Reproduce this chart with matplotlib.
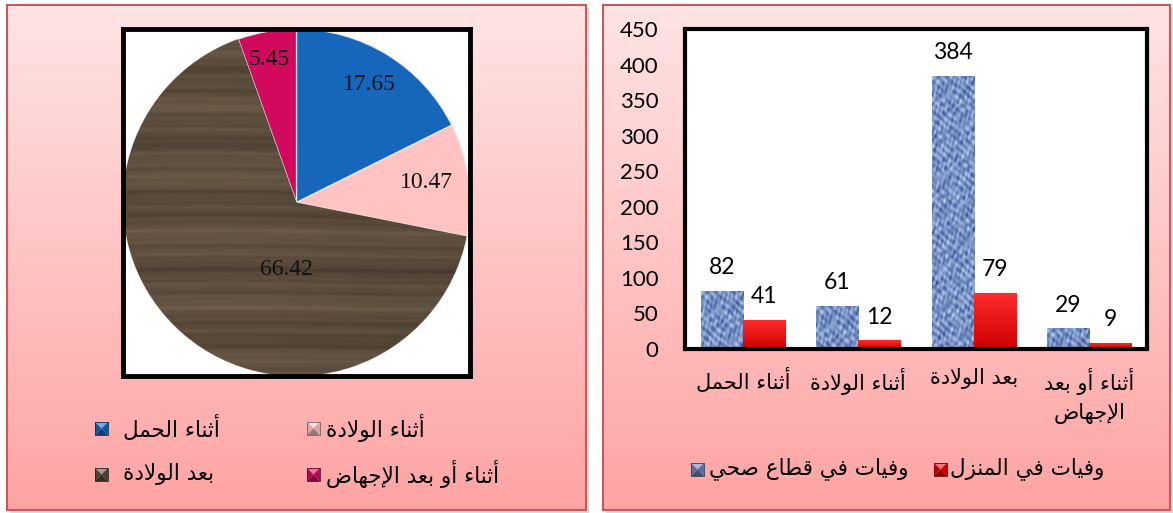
import numpy as np
import matplotlib
matplotlib.use("Agg")
import matplotlib.pyplot as plt
from matplotlib.patches import Rectangle, Polygon

# ---------------- data ----------------
pie_labels = ["أثناء الحمل", "أثناء الولادة", "بعد الولادة", "أثناء أو بعد الإجهاض"]
pie_values = [17.65, 10.47, 66.42, 5.45]

bar_categories = ["أثناء الحمل", "أثناء الولادة", "بعد الولادة", "أثناء أو بعد\nالإجهاض"]
health_sector = [82, 61, 384, 29]
at_home = [41, 12, 79, 9]
series_names = ["وفيات في قطاع صحي", "وفيات في المنزل"]
y_ticks = [0, 50, 100, 150, 200, 250, 300, 350, 400, 450]

# ---------------- simple Arabic shaping (presentation forms + RTL) ----------------
_codes = list(range(0x621, 0x63B)) + list(range(0x641, 0x64B))
_counts = [1, 2, 2, 2, 2, 4, 2, 4, 2, 4, 4, 4, 4, 4, 2, 2, 2, 2, 4, 4, 4, 4, 4, 4, 4, 4,
           4, 4, 4, 4, 4, 4, 4, 2, 2, 4]
FORMS = {}
_b = 0xFE80
for _c, _n in zip(_codes, _counts):
    FORMS[chr(_c)] = (_b, _n)
    _b += _n
LAM_ALEF = {'\u0622': 0xFEF5, '\u0623': 0xFEF7, '\u0625': 0xFEF9, '\u0627': 0xFEFB}


def _shape_line(s):
    toks = []
    i = 0
    while i < len(s):
        ch = s[i]
        if ch == '\u0644' and i + 1 < len(s) and s[i + 1] in LAM_ALEF:
            toks.append(('LA', s[i + 1]))
            i += 2
        else:
            toks.append(('C', ch))
            i += 1

    def dual(t):
        return t[0] == 'C' and t[1] in FORMS and FORMS[t[1]][1] == 4

    def joinable(t):
        return t[0] == 'LA' or (t[1] in FORMS and FORMS[t[1]][1] >= 2)

    res = []
    for k, t in enumerate(toks):
        prev = toks[k - 1] if k > 0 else None
        nxt = toks[k + 1] if k + 1 < len(toks) else None
        jp = prev is not None and dual(prev) and joinable(t)
        jn = nxt is not None and dual(t) and joinable(nxt)
        if t[0] == 'LA':
            res.append(chr(LAM_ALEF[t[1]] + (1 if jp else 0)))
        elif t[1] in FORMS:
            b, n = FORMS[t[1]]
            if n == 1:
                idx = 0
            elif n == 2:
                idx = 1 if jp else 0
            else:
                idx = 3 if (jp and jn) else 1 if jp else 2 if jn else 0
            res.append(chr(b + idx))
        else:
            res.append(t[1])
    return ''.join(reversed(res))


def ar(text):
    return '\n'.join(_shape_line(l) for l in text.split('\n'))


AR_FONT = ['DejaVu Sans']
NUM_FONT = ['Lato', 'DejaVu Sans']
SERIF = ['Liberation Serif', 'DejaVu Serif']

W, H = 1173, 513
fig = plt.figure(figsize=(W / 100, H / 100), dpi=100)
fig.patch.set_facecolor('white')

# ---------------- background panels (pixel coords) ----------------
bg = fig.add_axes([0, 0, 1, 1])
bg.set_xlim(0, W)
bg.set_ylim(H, 0)
bg.axis('off')

grad = np.linspace(0, 1, 256)[:, None]
top_c = np.array([254, 228, 228]) / 255
bot_c = np.array([255, 164, 164]) / 255
grad_img = top_c[None, None, :] * (1 - grad[..., None]) + bot_c[None, None, :] * grad[..., None]
grad_img = np.repeat(grad_img, 2, axis=1)

for (x0, y0, x1, y1) in [(7, 5, 586, 510), (603, 5, 1170, 510)]:
    bg.add_patch(Rectangle((x0 + 3, y0 + 3), x1 - x0, y1 - y0, facecolor='#d8d8d8',
                           edgecolor='none', zorder=0))
    bg.imshow(grad_img, extent=(x0, x1, y1, y0), aspect='auto', zorder=1, interpolation='bilinear')
    bg.add_patch(Rectangle((x0, y0), x1 - x0, y1 - y0, facecolor='none',
                           edgecolor='#c75a5a', linewidth=1.5, zorder=2))
bg.set_xlim(0, W)
bg.set_ylim(H, 0)


def px_axes(x0, y0, x1, y1):
    return fig.add_axes([x0 / W, 1 - y1 / H, (x1 - x0) / W, (y1 - y0) / H])


def bevel_marker(ax, x, y, s, color):
    c = np.array(matplotlib.colors.to_rgb(color))
    light = np.clip(c + (1 - c) * 0.45, 0, 1)
    dark = c * 0.6
    mid = c * 0.85
    cx, cy = x + s / 2, y + s / 2
    ax.add_patch(Polygon([(x, y), (x + s, y), (cx, cy)], closed=True, facecolor=light, edgecolor='none', zorder=5))
    ax.add_patch(Polygon([(x, y + s), (x + s, y + s), (cx, cy)], closed=True, facecolor=dark, edgecolor='none', zorder=5))
    ax.add_patch(Polygon([(x, y), (x, y + s), (cx, cy)], closed=True, facecolor=mid, edgecolor='none', zorder=5))
    ax.add_patch(Polygon([(x + s, y), (x + s, y + s), (cx, cy)], closed=True, facecolor=mid, edgecolor='none', zorder=5))
    ax.add_patch(Rectangle((x, y), s, s, facecolor='none', edgecolor=dark * 0.8, linewidth=0.6, zorder=6))


# ---------------- pie chart ----------------
pie_colors = ['#1666bc', '#ffc3c3', '#5b4a3d', '#d10a5e']
pax = px_axes(123, 29, 470, 376)
wedges, _ = pax.pie(pie_values, colors=pie_colors, startangle=90, counterclock=False,
                    radius=1.0, frame=True,
                    wedgeprops=dict(edgecolor='#efe6e6', linewidth=0.9))
pax.set_frame_on(True)
pax.set_facecolor('white')
pax.set_aspect('auto')
pax.set_xticks([])
pax.set_yticks([])
for sp in pax.spines.values():
    sp.set_visible(True)
    sp.set_linewidth(3.5)
    sp.set_color('black')

# wood texture for the large slice (soft, nearly horizontal grain)
yy, xx = np.mgrid[0:400, 0:400] / 400.0
u = yy + 0.006 * np.sin(2 * np.pi * xx * 0.7 + 0.5) + 0.03 * xx * (yy - 0.5)
streak = (0.45 + 0.13 * np.sin(2 * np.pi * u * 5.3 + 0.2)
          + 0.10 * np.sin(2 * np.pi * u * 13.7 + 1.3)
          + 0.08 * np.sin(2 * np.pi * u * 31.1 + 0.4)
          + 0.05 * np.sin(2 * np.pi * u * 57.9 + 2.2)
          + 0.06 * np.sin(2 * np.pi * xx * 0.6 + 0.7))
streak = np.clip(streak, 0, 1)
dark_w = np.array([0.27, 0.22, 0.17])
light_w = np.array([0.46, 0.39, 0.31])
wood = dark_w[None, None, :] + (light_w - dark_w)[None, None, :] * streak[..., None]
im = pax.imshow(wood, extent=(-1, 1, -1, 1), zorder=2, aspect='auto', interpolation='bilinear')
im.set_clip_path(wedges[2])
pax.set_xlim(-1.0, 1.0)
pax.set_ylim(-1.0, 1.0)

# slice value labels
label_r = [0.80, 0.76, 0.39, 0.84]
label_dtheta = [0, 1, 32, 1]
for w, v, r, dt in zip(wedges, pie_values, label_r, label_dtheta):
    th = np.deg2rad((w.theta1 + w.theta2) / 2 + dt)
    pax.text(r * np.cos(th), r * np.sin(th), f"{v:.2f}", ha='center', va='center',
             fontsize=17, family=SERIF, color='#111111', zorder=4)

# pie legend (pixel coords in bg axes)
leg_pos = [(95, 422), (307, 422), (95, 468), (307, 468)]
leg_txt = [123, 326, 123, 326]
for (lx, ly), tx0, lab, col in zip(leg_pos, leg_txt, pie_labels, pie_colors):
    bevel_marker(bg, lx, ly, 13, col)
    bg.text(tx0, ly + 6, ar(lab), ha='left', va='center', fontsize=15.5,
            family=AR_FONT, color='black', zorder=6)

# ---------------- bar chart ----------------
bax = px_axes(685, 29, 1147, 349)
bax.set_facecolor('white')
x = np.arange(len(bar_categories))
bw = 0.365
b1 = bax.bar(x - bw / 2, health_sector, bw, color='#6384c0', edgecolor='#4f6ea8', linewidth=0.6, zorder=2)
b2 = bax.bar(x + bw / 2, at_home, bw, color='#e60000', edgecolor='#9c0000', linewidth=0.8, zorder=2)

# mottled denim-like texture on blue bars (low-frequency blobs)
ty, tx = np.mgrid[0:320, 0:42].astype(float)
tex = (0.50
       + 0.22 * np.sin(tx * 0.55 + 1.8 * np.sin(ty * 0.21)) * np.sin(ty * 0.47 + 1.6 * np.sin(tx * 0.29))
       + 0.16 * np.sin(tx * 1.05 + ty * 0.36 + 1.0) * np.cos(ty * 0.19 - tx * 0.41)
       + 0.12 * np.sin(ty * 0.83 - tx * 0.71 + 0.3)
       + 0.08 * np.cos(tx * 1.6 + 0.5 * ty))
tex = np.clip(tex, 0, 1)
dark_b = np.array([0.17, 0.30, 0.58])
light_b = np.array([0.78, 0.85, 0.96])
tex_img = dark_b[None, None, :] + (light_b - dark_b)[None, None, :] * tex[..., None]

# vertical gradient for red bars
rg = np.linspace(0, 1, 64)[:, None]
red_top = np.array([1.0, 0.18, 0.18])
red_bot = np.array([0.82, 0.0, 0.0])
red_img = red_top[None, None, :] * (1 - rg[..., None]) + red_bot[None, None, :] * rg[..., None]
red_img = np.repeat(red_img, 4, axis=1)

for rect in b1:
    x0 = rect.get_x()
    h = rect.get_height()
    rows = max(6, int(round(320 * h / 450)))
    ti = bax.imshow(tex_img[:rows], extent=(x0, x0 + bw, 0, h),
                    aspect='auto', zorder=2.5, interpolation='bilinear')
    ti.set_clip_path(rect)
for rect in b2:
    x0 = rect.get_x()
    h = rect.get_height()
    ri = bax.imshow(red_img, extent=(x0, x0 + bw, 0, h), aspect='auto', zorder=2.5,
                    interpolation='bilinear')
    ri.set_clip_path(rect)

bax.set_xlim(-0.5, len(bar_categories) - 0.5)
bax.set_ylim(0, 450)
bax.set_yticks(y_ticks)
bax.set_yticklabels([str(t) for t in y_ticks], fontsize=16, family=NUM_FONT)
bax.tick_params(axis='y', length=0, pad=19)
bax.set_xticks(x)
bax.set_xticklabels([ar(c) for c in bar_categories], fontsize=15, family=AR_FONT,
                    linespacing=1.5)
bax.tick_params(axis='x', length=0, pad=14)
for sp in bax.spines.values():
    sp.set_linewidth(3)
    sp.set_color('black')

for rect, v in zip(b1, health_sector):
    bax.annotate(str(v), (rect.get_x() + rect.get_width() / 2, v), xytext=(0, 9),
                 textcoords='offset points', ha='center', va='bottom', fontsize=16.5, family=NUM_FONT)
for rect, v in zip(b2, at_home):
    bax.annotate(str(v), (rect.get_x() + rect.get_width() / 2, v), xytext=(0, 9),
                 textcoords='offset points', ha='center', va='bottom', fontsize=16.5, family=NUM_FONT)

# bar legend
bevel_marker(bg, 691, 463, 13, '#6384c0')
bg.text(709, 469, ar(series_names[0]), ha='left', va='center', fontsize=15.5, family=AR_FONT, zorder=6)
bevel_marker(bg, 934, 463, 13, '#e60000')
bg.text(950, 469, ar(series_names[1]), ha='left', va='center', fontsize=15.5, family=AR_FONT, zorder=6)

fig.savefig('out.png', dpi=100)
